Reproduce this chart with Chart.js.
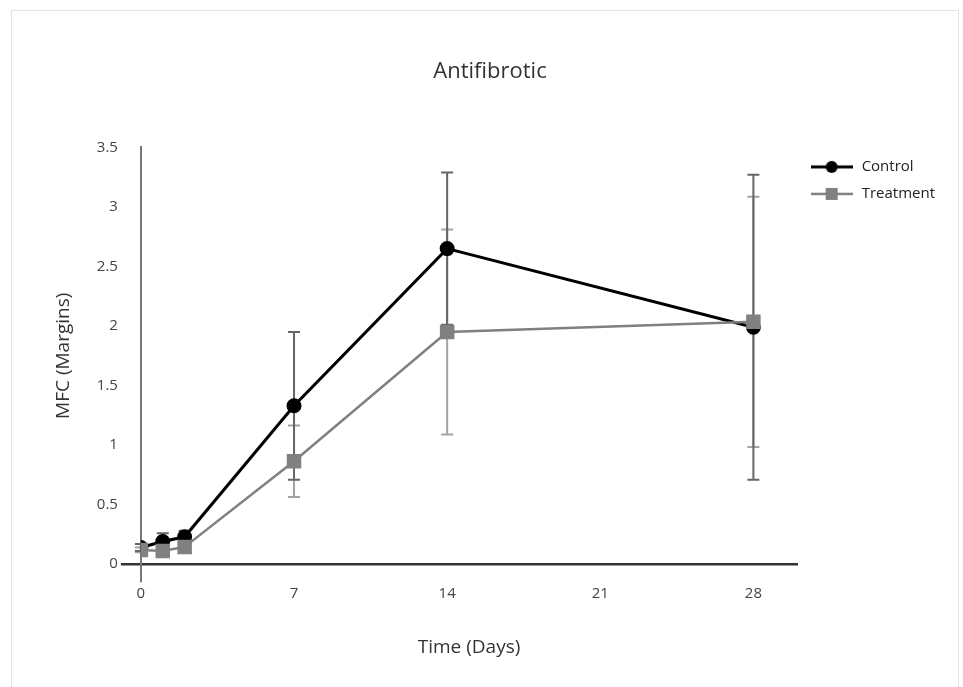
<!DOCTYPE html>
<html lang="en">
  <head>
    <meta charset="UTF-8" />
    <title>Antifibrotic</title>
    <script src="https://cdn.jsdelivr.net/npm/chart.js"></script>
    <style>
      html, body { margin: 0; padding: 0; background: #fff; }
      #wrap { position: relative; width: 963px; height: 687px; }
      #frame {
        position: absolute; left: 11px; top: 10px; width: 948px; height: 690px;
        border: 1px solid #e3e3e3; box-sizing: border-box;
      }
      #chart { position: absolute; left: 0; top: 0; }
    </style>
  </head>
  <body>
    <div id="wrap">
      <div id="frame"></div>
      <canvas id="chart" width="963" height="687"></canvas>
    </div>

    <script>
      // values
      const days = [0, 1, 2, 7, 14, 28];
      const controlMean = [0.14, 0.19, 0.23, 1.33, 2.65, 1.99];
      const controlErr = [0.03, 0.07, 0.05, 0.62, 0.64, 1.28];
      const treatmentMean = [0.12, 0.11, 0.145, 0.865, 1.95, 2.035];
      const treatmentErr = [0.02, 0.02, 0.02, 0.30, 0.86, 1.05];

      const xTicks = [0, 7, 14, 21, 28];
      const yTicks = [0, 0.5, 1, 1.5, 2, 2.5, 3, 3.5];
      const yTickLabels = ["0", "0.5", "1", "1.5", "2", "2.5", "3", "3.5"];

      const FONT = "'Open Sans', 'Noto Sans', sans-serif";

      // small line+marker icon for the legend
      function legendIcon(color, width, style) {
        const c = document.createElement("canvas");
        c.width = 42; c.height = 16;
        const g = c.getContext("2d");
        g.strokeStyle = color; g.lineWidth = width;
        g.beginPath(); g.moveTo(0, 8); g.lineTo(42, 8); g.stroke();
        g.fillStyle = color;
        if (style === "circle") {
          g.beginPath(); g.arc(21, 8, 6, 0, Math.PI * 2); g.fill();
        } else {
          g.fillRect(15, 2, 12, 12);
        }
        return c;
      }

      // error bars drawn before the lines so markers sit on top
      const errorBars = {
        id: "errorBars",
        beforeDatasetsDraw(chart) {
          const { ctx, scales } = chart;
          const sets = [
            { mean: treatmentMean, err: treatmentErr, color: "#a3a3a3" },
            { mean: controlMean, err: controlErr, color: "#666666" },
          ];
          ctx.save();
          ctx.lineWidth = 2;
          sets.forEach(s => {
            ctx.strokeStyle = s.color;
            days.forEach((d, i) => {
              const x = scales.x.getPixelForValue(d);
              const top = scales.y.getPixelForValue(s.mean[i] + s.err[i]);
              const bot = scales.y.getPixelForValue(s.mean[i] - s.err[i]);
              ctx.beginPath();
              ctx.moveTo(x, top); ctx.lineTo(x, bot);
              ctx.moveTo(x - 6, top); ctx.lineTo(x + 6, top);
              ctx.moveTo(x - 6, bot); ctx.lineTo(x + 6, bot);
              ctx.stroke();
            });
          });
          ctx.restore();
        },
      };

      const icons = [legendIcon("#000", 3, "circle"), legendIcon("#808080", 2.5, "rect")];

      new Chart(document.getElementById("chart"), {
        type: "line",
        data: {
          datasets: [
            {
              label: "Control",
              data: days.map((d, i) => ({ x: d, y: controlMean[i] })),
              borderColor: "#000",
              backgroundColor: "#000",
              borderWidth: 3,
              pointStyle: "circle",
              pointRadius: 6,
              order: 2,
            },
            {
              label: "Treatment",
              data: days.map((d, i) => ({ x: d, y: treatmentMean[i] })),
              borderColor: "#808080",
              backgroundColor: "#808080",
              borderWidth: 2.5,
              pointStyle: "rect",
              pointRadius: 8.5,
              order: 1,
            },
          ],
        },
        options: {
          responsive: false,
          animation: false,
          layout: { padding: { left: 35, right: 18, top: 0, bottom: 21 } },
          plugins: {
            title: {
              display: true,
              text: "Antifibrotic",
              color: "#333",
              font: { family: FONT, size: 22, weight: "normal" },
              padding: { top: 59, bottom: 62 },
            },
            legend: {
              position: "right",
              align: "start",
              fullSize: false,
              labels: {
                usePointStyle: true,
                pointStyleWidth: 45,
                padding: 12,
                color: "#222",
                font: { family: FONT, size: 15 },
                sort: (a, b) => a.datasetIndex - b.datasetIndex,
                generateLabels(chart) {
                  const items = Chart.defaults.plugins.legend.labels.generateLabels(chart);
                  items.forEach(it => { it.pointStyle = icons[it.datasetIndex]; });
                  return items;
                },
              },
            },
            tooltip: { enabled: false },
          },
          scales: {
            x: {
              type: "linear",
              min: 0,
              max: 30,
              afterBuildTicks: axis => { axis.ticks = xTicks.map(v => ({ value: v })); },
              ticks: { color: "#444", font: { family: FONT, size: 15 }, padding: 3 },
              grid: {
                drawOnChartArea: false,
                tickLength: 18,
                lineWidth: 2,
                color: c => (c.tick && c.tick.value === 0 ? "#777" : "transparent"),
              },
              border: { color: "#333", width: 2.5 },
              title: {
                display: true,
                text: "Time (Days)",
                color: "#333",
                font: { family: FONT, size: 19 },
                padding: { top: 30, bottom: 7 },
              },
            },
            y: {
              min: 0,
              max: 3.5,
              afterBuildTicks: axis => { axis.ticks = yTicks.map(v => ({ value: v })); },
              ticks: {
                color: "#444",
                font: { family: FONT, size: 15 },
                padding: 3,
                callback: (v, i) => yTickLabels[i],
              },
              grid: {
                drawOnChartArea: false,
                tickLength: 20,
                lineWidth: 2.5,
                color: c => (c.tick && c.tick.value === 0 ? "#333" : "transparent"),
              },
              border: { color: "#777", width: 2 },
              title: {
                display: true,
                text: "MFC (Margins)",
                color: "#333",
                font: { family: FONT, size: 19 },
                padding: { top: 17, bottom: 19 },
              },
            },
          },
        },
        plugins: [errorBars],
      });
    </script>
  </body>
</html>
